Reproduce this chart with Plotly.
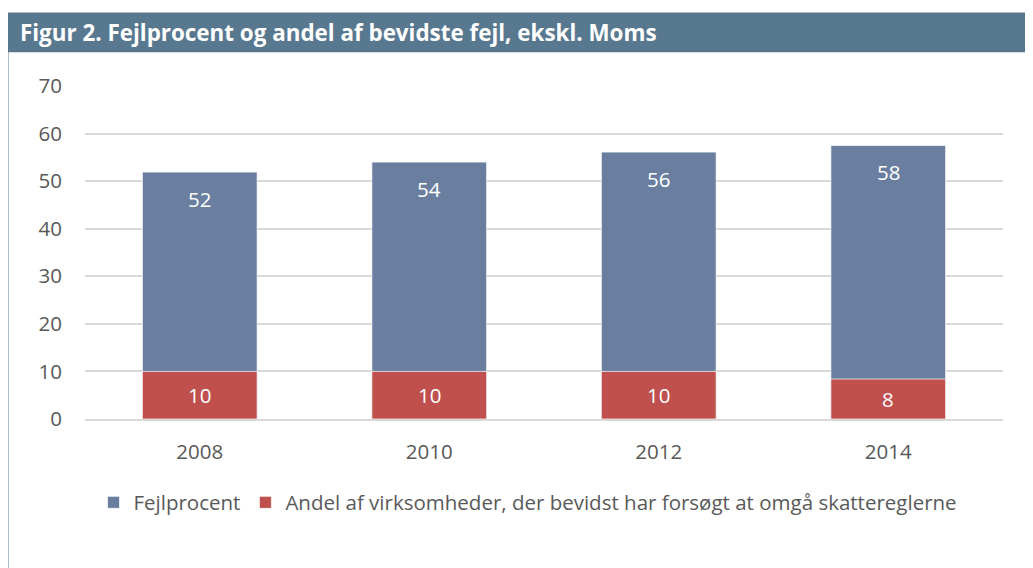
import plotly.graph_objects as go

years = ["2008", "2010", "2012", "2014"]
fejlprocent = [51.9, 54.0, 56.1, 57.5]
bevidste = [10.0, 10.0, 10.0, 8.4]
series_names = ["Fejlprocent", "Andel af virksomheder, der bevidst har forsøgt at omgå skattereglerne"]
title_text = "Figur 2. Fejlprocent og andel af bevidste fejl, ekskl. Moms"

OFF = 8  # page body margin
W, H = 1033 - OFF, 568 - OFF
L, R = 85 - OFF, 1003 - OFF
T, B = 85.7 - OFF, 419.3 - OFF
pw, ph = R - L, B - T

def px(x):
    return (x - OFF - L) / pw

def py(y):
    return (B - (y - OFF)) / ph

FONT = "Open Sans"
HEADER = "#587890"
BLUE = "#6A7FA0"
RED = "#C0504D"
FS = 20.5

fig = go.Figure()
fig.add_trace(go.Bar(x=years, y=fejlprocent, name=series_names[0], width=0.5,
                     marker=dict(color=BLUE, line=dict(color="rgba(255,255,255,0.7)", width=1))))
fig.add_trace(go.Bar(x=years, y=bevidste, name=series_names[1], width=0.5,
                     marker=dict(color=RED, line=dict(color="rgba(255,255,255,0.7)", width=1))))

annotations = []
for i, v in enumerate(fejlprocent):
    annotations.append(dict(x=i, y=v, xref="x", yref="y", text=f"{round(v):d}", showarrow=False,
                            yshift=-27, font=dict(family=FONT, size=FS, color="white")))
for i, v in enumerate(bevidste):
    annotations.append(dict(x=i, y=v / 2, xref="x", yref="y", text=f"{int(v)}",
                            showarrow=False, font=dict(family=FONT, size=FS, color="white")))
annotations.append(dict(x=px(18), y=py(32), xref="paper", yref="paper", xanchor="left", yanchor="middle",
                        text=f"<b>{title_text}</b>", showarrow=False,
                        font=dict(family=FONT, size=22.4, color="white")))

shapes = [
    dict(type="rect", xref="paper", yref="paper", x0=px(5), x1=px(1040), y0=py(52), y1=py(12),
         fillcolor=HEADER, line=dict(width=0), layer="below"),
    dict(type="line", xref="paper", yref="paper", x0=px(7.5), x1=px(7.5), y0=py(52), y1=py(575),
         line=dict(color=HEADER, width=2)),
]

fig.update_layout(
    width=W, height=H,
    margin=dict(l=L, r=W - R, t=T, b=H - B, pad=0),
    barmode="overlay",
    plot_bgcolor="white", paper_bgcolor="white",
    font=dict(family=FONT, size=FS, color="#595959"),
    showlegend=True,
    legend=dict(orientation="h", x=px(528), xanchor="center", y=py(503), yanchor="middle",
                font=dict(family=FONT, size=FS, color="#595959"), traceorder="normal"),
    annotations=annotations,
    shapes=shapes,
)
fig.update_yaxes(range=[0, 70], dtick=10, showgrid=True, gridcolor="#D9D9D9", gridwidth=1.6,
                 zeroline=False, showline=False, ticks="", ticklabelstandoff=22,
                 tickfont=dict(family=FONT, size=FS, color="#595959"), fixedrange=True)
fig.update_xaxes(type="category", range=[-0.5, 3.5], showgrid=False, showline=True, linecolor="#D9D9D9",
                 linewidth=1.6, ticks="", ticklabelstandoff=14,
                 tickfont=dict(family=FONT, size=FS, color="#595959"))

fig.write_html("out.html")
